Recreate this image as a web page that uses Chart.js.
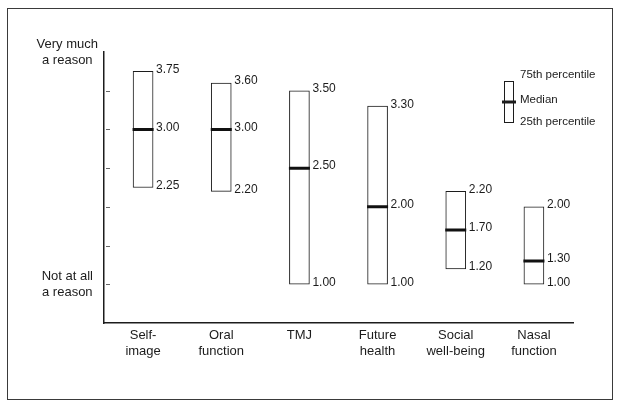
<!DOCTYPE html>
<html>
<head>
<meta charset="utf-8">
<script src="https://cdn.jsdelivr.net/npm/chart.js@4/dist/chart.umd.min.js"></script>
<style>
  html, body { margin: 0; padding: 0; background: #fff; }
  #wrap { position: relative; width: 621px; height: 408px; }
  #frame { position: absolute; left: 7px; top: 8px; width: 604px; height: 390px; border: 1px solid #3a3a3a; pointer-events: none; }
  canvas { position: absolute; left: 0; top: 0; }
</style>
</head>
<body>
<div id="wrap">
  <canvas id="reasonChart" width="621" height="408"></canvas>
  <div id="frame"></div>
</div>
<script>
// DATA
const categories = [['Self-', 'image'], ['Oral', 'function'], ['TMJ'], ['Future', 'health'], ['Social', 'well-being'], ['Nasal', 'function']];
const p25 = [2.25, 2.20, 1.00, 1.00, 1.20, 1.00];
const medians = [3.00, 3.00, 2.50, 2.00, 1.70, 1.30];
const p75 = [3.75, 3.60, 3.50, 3.30, 2.20, 2.00];
const yTickLabels = { 4: ['Very much', 'a reason'], 1: ['Not at all', 'a reason'] };
const legendLabels = ['75th percentile', 'Median', '25th percentile'];

const ink = '#1c1c1c';
const font = 'Arial, "Liberation Sans", sans-serif';

// value labels next to each box
const valueLabels = {
    id: 'valueLabels',
    afterDatasetsDraw(chart) {
        const ctx = chart.ctx;
        const y = chart.scales.y;
        const bars = chart.getDatasetMeta(0).data;
        ctx.save();
        ctx.fillStyle = ink;
        ctx.font = '12px ' + font;
        ctx.textAlign = 'left';
        ctx.textBaseline = 'middle';
        bars.forEach((bar, i) => {
            const x = bar.x + bar.width / 2 + 3;
            [p75[i], medians[i], p25[i]].forEach(v => {
                ctx.fillText(v.toFixed(2), x, y.getPixelForValue(v) - 2);
            });
        });
        ctx.restore();
    }
};

// small inner tick marks + legend
const extras = {
    id: 'extras',
    afterDraw(chart) {
        const ctx = chart.ctx;
        const y = chart.scales.y;
        const area = chart.chartArea;
        ctx.save();
        ctx.strokeStyle = '#666';
        ctx.lineWidth = 1;
        y.ticks.forEach(t => {
            if (t.value < 1 || t.value > 3.5) return;
            const py = Math.round(y.getPixelForValue(t.value)) + 0.5;
            ctx.beginPath();
            ctx.moveTo(area.left + 2, py);
            ctx.lineTo(area.left + 6, py);
            ctx.stroke();
        });

        // legend
        const lx = area.right - 69, top = 81, bottom = 122, w = 9;
        ctx.strokeStyle = ink;
        ctx.strokeRect(lx + 0.5, top + 0.5, w, bottom - top);
        ctx.lineWidth = 3;
        ctx.beginPath();
        ctx.moveTo(lx - 2, 102);
        ctx.lineTo(lx + w + 3, 102);
        ctx.stroke();
        ctx.fillStyle = ink;
        ctx.font = '11.5px ' + font;
        ctx.textAlign = 'left';
        ctx.textBaseline = 'middle';
        ctx.fillText(legendLabels[0], lx + 16, 75);
        ctx.fillText(legendLabels[1], lx + 16, 100);
        ctx.fillText(legendLabels[2], lx + 16, 122);
        ctx.restore();
    }
};

new Chart(document.getElementById('reasonChart'), {
    type: 'bar',
    data: {
        labels: categories,
        datasets: [{
            label: 'Interquartile range',
            data: p25.map((v, i) => [v, p75[i]]),
            backgroundColor: '#fff',
            borderColor: ink,
            borderWidth: 1,
            borderSkipped: false,
            barThickness: 20,
            order: 2
        }, {
            type: 'line',
            label: 'Median',
            data: medians,
            showLine: false,
            pointStyle: 'line',
            pointRadius: 10.5,
            pointBorderWidth: 3,
            pointBorderColor: '#111',
            borderColor: '#111',
            order: 1
        }]
    },
    options: {
        responsive: false,
        animation: false,
        layout: { padding: { left: 0, top: 52, right: 48, bottom: 0 } },
        plugins: { legend: { display: false }, tooltip: { enabled: false } },
        scales: {
            x: {
                grid: { display: false, drawTicks: false },
                border: { color: ink, width: 1.5 },
                ticks: { color: ink, padding: 4, font: { family: font, size: 13, lineHeight: 1.23 }, maxRotation: 0, autoSkip: false },
                afterFit(scale) { scale.height = 85; }
            },
            y: {
                min: 0.5,
                max: 4,
                grid: { drawOnChartArea: false, drawTicks: false },
                border: { color: ink, width: 1.5 },
                ticks: {
                    stepSize: 0.5,
                    color: ink,
                    padding: 6,
                    crossAlign: 'center',
                    font: { family: font, size: 13, lineHeight: 1.23 },
                    callback: v => yTickLabels[v] || ''
                },
                afterFit(scale) { scale.width = 104; }
            }
        }
    },
    plugins: [valueLabels, extras]
});
</script>
</body>
</html>
